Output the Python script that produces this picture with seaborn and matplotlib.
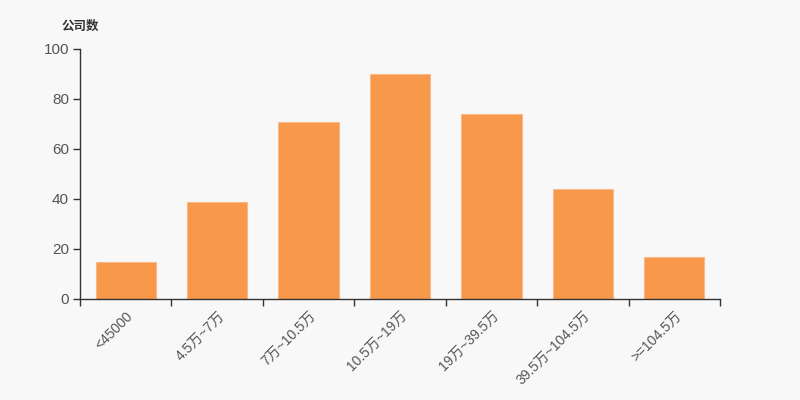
import matplotlib
matplotlib.use('Agg')
import matplotlib.pyplot as plt
import seaborn as sns
import pandas as pd

categories = ['<45000', '4.5万~7万', '7万~10.5万', '10.5万~19万', '19万~39.5万', '39.5万~104.5万', '>=104.5万']
counts = [15, 39, 71, 90, 74, 44, 17]

df = pd.DataFrame({'range': categories, 'count': counts})

sns.set_theme(style='ticks')
plt.rcParams['font.family'] = ['Liberation Sans', 'Noto Sans CJK SC', 'DejaVu Sans']

bg = '#f8f8f8'
fig = plt.figure(figsize=(8, 4), dpi=100, facecolor=bg)
ax = fig.add_axes([0.1, 0.2525, 0.8, 0.625], facecolor=bg)

sns.barplot(data=df, x='range', y='count', color='#f7984a', saturation=1,
            width=0.66, edgecolor='#f9b988', linewidth=0.8, ax=ax)

ax.set_ylim(0, 100)
ax.set_xlim(-0.5, len(categories) - 0.5)
ax.set_yticks([0, 20, 40, 60, 80, 100])
ax.set_xticks([i - 0.5 for i in range(len(categories) + 1)], minor=True)
ax.tick_params(axis='x', which='major', length=0, pad=7)
ax.tick_params(axis='x', which='minor', length=5, width=1, color='#333333')
ax.tick_params(axis='y', length=5, width=1, color='#333333', labelsize=11, labelcolor='#555555', pad=3)
ax.set_xticklabels(categories, rotation=45, ha='right', rotation_mode='anchor',
                   fontsize=10, color='#555555')
for s in ['top', 'right']:
    ax.spines[s].set_visible(False)
for s in ['left', 'bottom']:
    ax.spines[s].set_color('#333333')
    ax.spines[s].set_linewidth(1)
ax.set_xlabel('')
ax.set_ylabel('')
fig.text(0.1, 0.9325, '公司数', fontsize=9, fontweight='bold', color='#333333',
         ha='center', va='center')

fig.savefig('out.png', dpi=100, facecolor=bg)
